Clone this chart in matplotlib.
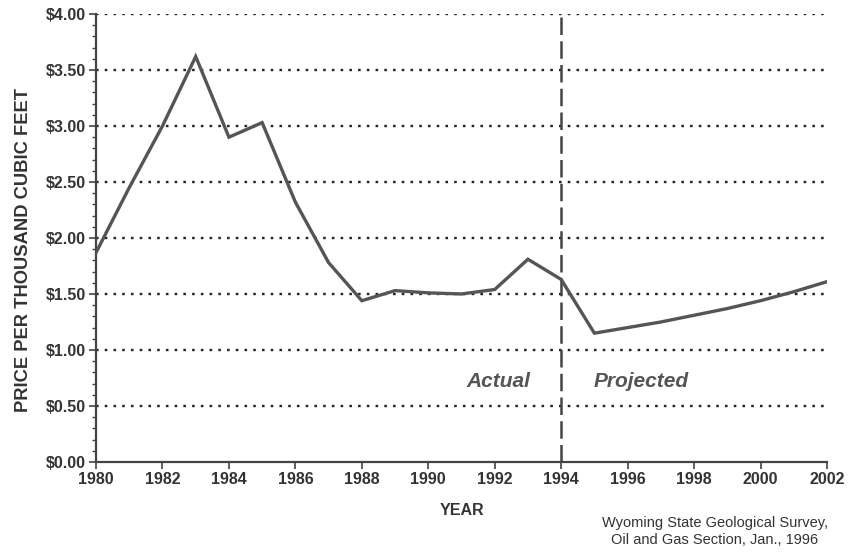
import numpy as np
import matplotlib.pyplot as plt
from matplotlib.ticker import MultipleLocator, FuncFormatter

plt.rcParams['font.family'] = ['Liberation Sans', 'DejaVu Sans']

# Data
years = [1980, 1981, 1982, 1983, 1984, 1985, 1986, 1987, 1988, 1989, 1990,
         1991, 1992, 1993, 1994, 1995, 1996, 1997, 1998, 1999, 2000, 2001, 2002]
price = [1.87, 2.45, 3.00, 3.62, 2.90, 3.03, 2.32, 1.78, 1.44, 1.53, 1.51,
         1.50, 1.54, 1.81, 1.63, 1.15, 1.20, 1.25, 1.31, 1.37, 1.44, 1.52, 1.61]
split_year = 1994
x_ticks = list(range(1980, 2003, 2))
y_ticks = [0.0, 0.5, 1.0, 1.5, 2.0, 2.5, 3.0, 3.5, 4.0]

ink = '#333333'

fig = plt.figure(figsize=(8.59, 5.55), dpi=100)
ax = fig.add_axes([0.1118, 0.1676, 0.8509, 0.8072])

for yv in y_ticks[1:]:
    ax.axhline(yv, color='#222222', lw=1.7, ls=(0, (1.1, 2.6)), zorder=1)

ax.axvline(split_year, color='#444444', lw=1.8, ls=(0, (7, 2.5)), zorder=2)
ax.plot(years, price, color='#555555', lw=2.4, zorder=3, solid_joinstyle='miter')

ax.text(1992.1, 0.72, 'Actual', style='italic', fontweight='bold', fontsize=15,
        color='#555555', ha='center', va='center')
ax.text(1996.4, 0.72, 'Projected', style='italic', fontweight='bold', fontsize=15,
        color='#555555', ha='center', va='center')

ax.set_xlim(1980, 2002)
ax.set_ylim(0, 4.0)
ax.set_xticks(x_ticks)
ax.set_yticks(y_ticks)
ax.yaxis.set_minor_locator(MultipleLocator(0.1))
ax.yaxis.set_major_formatter(FuncFormatter(lambda v, p: '${:.2f}'.format(v)))

for s in ['top', 'right']:
    ax.spines[s].set_visible(False)
for s in ['left', 'bottom']:
    ax.spines[s].set_color('#444444')
    ax.spines[s].set_linewidth(1.6)

ax.tick_params(axis='both', which='major', length=5, width=1.2, color='#444444',
               labelsize=11.5, labelcolor=ink, pad=2)
ax.tick_params(axis='y', which='minor', length=3, width=1, color='#444444')
for lab in ax.get_xticklabels() + ax.get_yticklabels():
    lab.set_fontweight('bold')

ax.set_xlabel('YEAR', fontsize=11.5, fontweight='bold', color=ink, labelpad=12)
ax.set_ylabel('PRICE PER THOUSAND CUBIC FEET', fontsize=13.2, fontweight='bold',
              color=ink, labelpad=8)
ax.yaxis.set_label_coords(-0.088, 0.473)

fig.text(0.832, 0.042, 'Wyoming State Geological Survey,\nOil and Gas Section, Jan., 1996',
         ha='center', va='center', fontsize=10.5, color=ink, linespacing=1.3)

fig.savefig('out.png', dpi=100, facecolor='white')
